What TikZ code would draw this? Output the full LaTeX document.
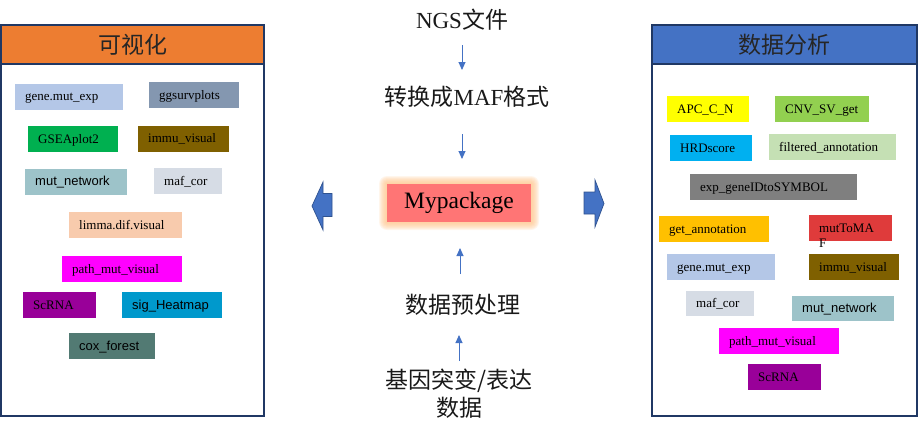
\documentclass[tikz,border=0pt]{standalone}
\usepackage{fontspec}
\setmainfont{Liberation Serif}
\setsansfont{Liberation Sans}
\newfontfamily\cjk{Noto Sans CJK SC}
\usetikzlibrary{calc,arrows.meta,positioning}

\definecolor{navy}{HTML}{203864}
\definecolor{headorange}{HTML}{ED7D31}
\definecolor{headblue}{HTML}{4472C4}
\definecolor{flowblue}{HTML}{4472C4}
\definecolor{arrowedge}{HTML}{2F528F}
\definecolor{pkgred}{HTML}{FF7575}
\definecolor{glow}{HTML}{FFC48A}
\definecolor{cLightblue}{HTML}{B4C7E7}
\definecolor{cSlate}{HTML}{8497B0}
\definecolor{cGreen}{HTML}{00B050}
\definecolor{cBrown}{HTML}{7F6000}
\definecolor{cTeal}{HTML}{9DC3C9}
\definecolor{cPale}{HTML}{D6DCE5}
\definecolor{cPeach}{HTML}{F8CBAD}
\definecolor{cMagenta}{HTML}{FF00FF}
\definecolor{cPurple}{HTML}{990099}
\definecolor{cCyan}{HTML}{0099CC}
\definecolor{cForest}{HTML}{527A73}
\definecolor{cYellow}{HTML}{FFFF00}
\definecolor{cLime}{HTML}{92D050}
\definecolor{cSky}{HTML}{00B0F0}
\definecolor{cMint}{HTML}{C5E0B4}
\definecolor{cGray}{HTML}{7F7F7F}
\definecolor{cGold}{HTML}{FFC000}
\definecolor{cRed}{HTML}{DF3B3B}

\begin{document}
\begin{tikzpicture}[x=1pt,y=-1pt,
  panel/.style={draw=navy,line width=1.3pt,anchor=north west,inner sep=0pt,outer sep=0pt},
  head/.style={panel,font=\cjk\fontsize{23}{26}\selectfont,text=black!85},
  fn/.style={anchor=west,inner xsep=10pt,inner ysep=0pt,minimum height=26pt,
    text height=9pt,text depth=1pt,align=left,font=\fontsize{13}{15}\selectfont},
  fnsans/.style={fn,font=\sffamily\fontsize{13}{15}\selectfont},
  step label/.style={font=\fontsize{23}{28}\selectfont,text=black!90,align=center,inner sep=0pt},
  flow/.style={draw=flowblue,line width=0.9pt,-{Triangle[length=8pt,width=7pt]}},
  blockarrow/.style={fill=flowblue,draw=arrowedge,line width=0.7pt,line join=miter}]

\useasboundingbox (0,0) rectangle (918,429);

% left panel: visualisation
\node[panel,minimum width=263pt,minimum height=391pt] (vispanel) at (1,25) {};
\node[head,fill=headorange,minimum width=263pt,minimum height=39pt] (vishead) at (vispanel.north west) {可视化};

\node[fn,fill=cLightblue,text width=88pt] (vgene) at (15,96.5) {gene.mut\_exp};
\node[fn,fill=cSlate,text width=70pt] (vsurv) at (149,95) {ggsurvplots};
\node[fn,fill=cGreen,text width=70pt] (vgsea) at (28,139) {GSEAplot2};
\node[fn,fill=cBrown,text width=71pt] (vimmu) at (138,138.5) {immu\_visual};
\node[fnsans,fill=cTeal,text width=82pt] (vnet) at (25,181.5) {mut\_network};
\node[fn,fill=cPale,text width=48pt] (vmaf) at (154,181) {maf\_cor};
\node[fn,fill=cPeach,text width=93pt] (vlimma) at (69,225) {limma.dif.visual};
\node[fn,fill=cMagenta,text width=100pt] (vpath) at (62,269) {path\_mut\_visual};
\node[fn,fill=cPurple,text width=53pt] (vscrna) at (23,305) {ScRNA};
\node[fnsans,fill=cCyan,text width=80pt] (vsig) at (122,305) {sig\_Heatmap};
\node[fnsans,fill=cForest,text width=66pt] (vcox) at (69,346) {cox\_forest};

% right panel: analysis
\node[panel,minimum width=265pt,minimum height=391pt] (anapanel) at (652,25) {};
\node[head,fill=headblue,minimum width=265pt,minimum height=39pt] (anahead) at (anapanel.north west) {数据分析};

\node[fn,fill=cYellow,text width=62pt] (aapc) at (667,109) {APC\_C\_N};
\node[fn,fill=cLime,text width=74pt] (acnv) at (775,109) {CNV\_SV\_get};
\node[fn,fill=cSky,text width=62pt] (ahrd) at (670,148) {HRDscore};
\node[fn,fill=cMint,text width=107pt] (afilt) at (769,147) {filtered\_annotation};
\node[fn,fill=cGray,text width=147pt] (aexp) at (690,187) {exp\_geneIDtoSYMBOL};
\node[fn,fill=cGold,text width=90pt] (aget) at (659,229) {get\_annotation};
\node[fn,fill=cRed,text width=63pt,text depth=1pt] (amut) at (809,228) {mutToMA\\F};
\node[fn,fill=cLightblue,text width=88pt] (agene) at (667,267) {gene.mut\_exp};
\node[fn,fill=cBrown,text width=70pt] (aimmu) at (809,267) {immu\_visual};
\node[fn,fill=cPale,text width=48pt,minimum height=25pt] (amaf) at (686,303.5) {maf\_cor};
\node[fnsans,fill=cTeal,text width=82pt,minimum height=25pt] (anet) at (792,308.5) {mut\_network};
\node[fn,fill=cMagenta,text width=100pt] (apath) at (719,341) {path\_mut\_visual};
\node[fn,fill=cPurple,text width=53pt] (ascrna) at (748,377) {ScRNA};

% centre column
\node[step label] (ngs) at (462,20) {NGS{\cjk 文件}};
\node[step label] (maf) at (467,97) {{\cjk 转换成}MAF{\cjk 格式}};
\coordinate (pkgc) at (459,203);
\foreach \g in {8,...,1}
  \fill[glow,opacity=0.16,rounded corners=\g pt]
    ($(pkgc)+(-72-\g,-19-\g)$) rectangle ($(pkgc)+(72+\g,19+\g)$);
\node[fill=pkgred,minimum width=144pt,minimum height=38pt,inner sep=0pt,
  font=\fontsize{23.5}{28}\selectfont] (pkg) at (pkgc) {Mypackage};
\node[step label,font=\cjk\fontsize{23}{28}\selectfont] (prep) at (462.5,305) {数据预处理};
\node[step label,font=\cjk\fontsize{23}{28}\selectfont] (raw) at (459,394) {基因突变/表达\\数据};

\coordinate (a1) at (462,45);
\coordinate (b1) at (462,70);
\coordinate (a2) at (462,134);
\coordinate (b2) at (462,159);
\coordinate (a3) at (460,274);
\coordinate (b3) at (460,248);
\coordinate (a4) at (459,361);
\coordinate (b4) at (459,335);
\draw[flow] (a1) -- (b1);
\draw[flow] (a2) -- (b2);
\draw[flow] (a3) -- (b3);
\draw[flow] (a4) -- (b4);

% block arrows to both panels
\draw[blockarrow] (312,206) -- (323,182) -- (323,193.5) -- (332,193.5)
  -- (332,216.5) -- (323,216.5) -- (323,230) -- cycle;
\draw[blockarrow] (584,192) -- (595,192) -- (595,180) -- (604,203.5)
  -- (595,227) -- (595,214) -- (584,214) -- cycle;

\end{tikzpicture}
\end{document}
